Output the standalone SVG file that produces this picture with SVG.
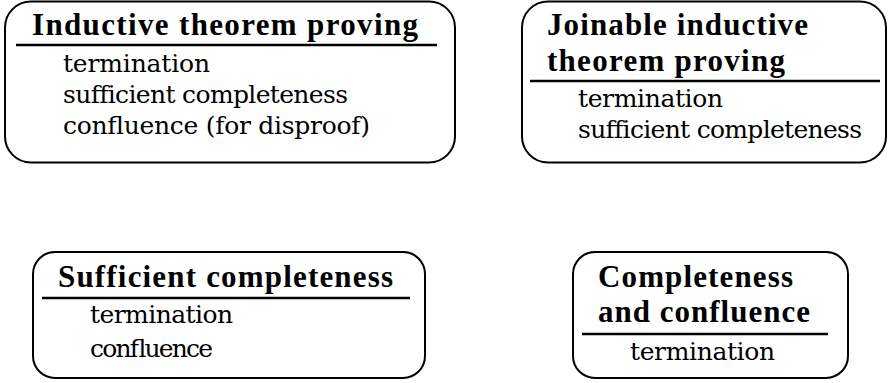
<svg xmlns="http://www.w3.org/2000/svg" width="888" height="383" viewBox="0 0 888 383">
<style>
.box{fill:#fff;stroke:#000;stroke-width:2}
.rule{stroke:#000;stroke-width:2.5}
text{fill:#000}
.t{font-family:"Liberation Serif","Times New Roman",serif;font-weight:bold;font-size:31px}
.b{font-family:"DejaVu Serif",serif;font-weight:normal;font-size:25px}
</style>
<rect width="888" height="383" fill="#fff"/>
<g id="connectors"></g>
<g id="node-inductive">
<rect class="box" x="5" y="1.5" width="450" height="161" rx="26"/>
<text class="t" x="32" y="35" textLength="386">Inductive theorem proving</text>
<line class="rule" x1="16" y1="45" x2="437" y2="45"/>
<text class="b" x="63" y="72" textLength="147">termination</text>
<text class="b" x="63" y="103" textLength="285">sufficient completeness</text>
<text class="b" x="63" y="134" textLength="307">confluence (for disproof)</text>
</g>
<g id="node-joinable">
<rect class="box" x="522" y="1.5" width="364" height="161" rx="26"/>
<text class="t" x="547" y="35" textLength="261">Joinable inductive</text>
<text class="t" x="547" y="71" textLength="238">theorem proving</text>
<line class="rule" x1="530" y1="81" x2="880" y2="81"/>
<text class="b" x="578" y="107" textLength="145">termination</text>
<text class="b" x="578" y="138" textLength="284">sufficient completeness</text>
</g>
<g id="node-sufficient">
<rect class="box" x="33" y="252" width="392" height="126" rx="22"/>
<text class="t" x="58" y="287" textLength="335">Sufficient completeness</text>
<line class="rule" x1="42" y1="298" x2="410" y2="298"/>
<text class="b" x="90" y="323" textLength="143">termination</text>
<text class="b" x="90" y="357" textLength="123">confluence</text>
</g>
<g id="node-completeness">
<rect class="box" x="573" y="252" width="275" height="126" rx="22"/>
<text class="t" x="598" y="287" textLength="195">Completeness</text>
<text class="t" x="598" y="322" textLength="212">and confluence</text>
<line class="rule" x1="582" y1="334" x2="828" y2="334"/>
<text class="b" x="630" y="360" textLength="145">termination</text>
</g>
</svg>
